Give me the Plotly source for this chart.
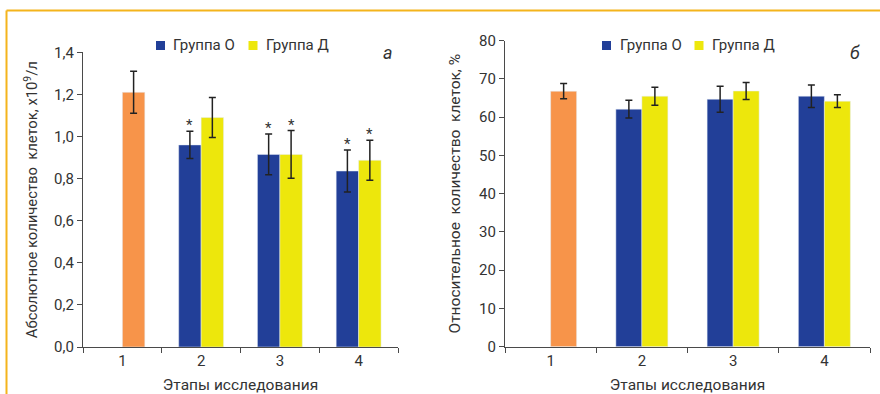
import plotly.graph_objects as go

# ---------------- data ----------------
stages = ["1", "2", "3", "4"]
stages_groups = ["2", "3", "4"]

abs_base = [1.21]
abs_base_err = [0.10]
abs_O = [0.96, 0.915, 0.836]
abs_O_err = [0.065, 0.097, 0.10]
abs_D = [1.09, 0.915, 0.887]
abs_D_err = [0.095, 0.113, 0.095]
abs_O_sig = [True, True, True]
abs_D_sig = [False, True, True]

rel_base = [66.8]
rel_base_err = [2.0]
rel_O = [62.1, 64.7, 65.5]
rel_O_err = [2.3, 3.4, 2.95]
rel_D = [65.5, 66.85, 64.2]
rel_D_err = [2.35, 2.25, 1.65]

name_O = "Группа О"
name_D = "Группа Д"
ytitle_abs = "Абсолютное количество  клеток, х10<sup>9</sup>/л"
ytitle_rel = "Относительное  количество  клеток, %"
xtitle = "Этапы исследования"

# ---------------- style ----------------
C_ORANGE = "#F7944A"
C_BLUE = "#223F98"
C_YELLOW = "#EDE70C"
C_ERR = "#222222"
C_TEXT = "#333333"
C_AXIS = "#4a4a4a"
C_FRAME = "#F4B41C"
FONT = "Roboto"
BW = 0.285
W, H = 880, 394

fig = go.Figure()


def err(vals):
    return dict(type="data", array=vals, visible=True, color=C_ERR, thickness=1.5, width=3.5)


def add_panel(xa, ya, base, base_e, o, o_e, d, d_e):
    fig.add_trace(go.Bar(x=["1"], y=base, error_y=err(base_e), marker_color=C_ORANGE,
                         width=BW, offset=0, xaxis=xa, yaxis=ya, showlegend=False))
    fig.add_trace(go.Bar(x=stages_groups, y=o, error_y=err(o_e), marker_color=C_BLUE,
                         width=BW, offset=-BW, xaxis=xa, yaxis=ya, name=name_O, showlegend=False))
    fig.add_trace(go.Bar(x=stages_groups, y=d, error_y=err(d_e), marker_color=C_YELLOW,
                         width=BW, offset=0, xaxis=xa, yaxis=ya, name=name_D, showlegend=False))


add_panel("x", "y", abs_base, abs_base_err, abs_O, abs_O_err, abs_D, abs_D_err)
add_panel("x2", "y2", rel_base, rel_base_err, rel_O, rel_O_err, rel_D, rel_D_err)

# significance stars (left panel)
annotations = []
star_font = dict(family=FONT, size=15, color=C_TEXT)
for i, st in enumerate(stages_groups):
    idx = stages.index(st)
    if abs_O_sig[i]:
        annotations.append(dict(x=idx - BW / 2, y=abs_O[i] + abs_O_err[i], xref="x", yref="y",
                                text="*", showarrow=False, yanchor="bottom", yshift=-5,
                                font=star_font))
    if abs_D_sig[i]:
        annotations.append(dict(x=idx + BW / 2, y=abs_D[i] + abs_D_err[i], xref="x", yref="y",
                                text="*", showarrow=False, yanchor="bottom", yshift=-5,
                                font=star_font))

# panel letters
annotations.append(dict(x=388 / W, y=1 - 40 / H, xref="paper", yref="paper", text="<i>а</i>",
                        showarrow=False, font=dict(family=FONT, size=18, color=C_TEXT)))
annotations.append(dict(x=862 / W, y=1 - 40 / H, xref="paper", yref="paper", text="<i>б</i>",
                        showarrow=False, font=dict(family=FONT, size=18, color=C_TEXT)))

# legends (swatch + label) for both panels
shapes = [
    dict(type="line", xref="paper", yref="paper", x0=6.5 / W, x1=1, y0=1 - 10.5 / H,
         y1=1 - 10.5 / H, line=dict(color=C_FRAME, width=2)),
    dict(type="line", xref="paper", yref="paper", x0=6.5 / W, x1=6.5 / W, y0=0,
         y1=1 - 10.5 / H, line=dict(color=C_FRAME, width=2)),
]
legend_items = [
    (156, 171, name_O, C_BLUE), (248.5, 264, name_D, C_YELLOW),
    (602, 617.5, name_O, C_BLUE), (694.5, 710, name_D, C_YELLOW),
]
LEG_Y = 45.5
for sx, tx, nm, col in legend_items:
    shapes.append(dict(type="rect", xref="paper", yref="paper", x0=sx / W, x1=(sx + 9) / W,
                       y0=1 - (LEG_Y + 4.5) / H, y1=1 - (LEG_Y - 4.5) / H,
                       fillcolor=col, line=dict(width=0)))
    annotations.append(dict(x=tx / W, y=1 - LEG_Y / H, xref="paper", yref="paper", text=nm,
                            showarrow=False, xanchor="left", yanchor="middle",
                            font=dict(family=FONT, size=15, color=C_TEXT)))

tick_font = dict(family=FONT, size=15, color=C_TEXT)
title_font = dict(family=FONT, size=15.5, color=C_TEXT)
title_font_abs = dict(family=FONT, size=14.8, color=C_TEXT)

xaxis_common = dict(type="category", categoryorder="array", categoryarray=stages,
                    range=[-0.5, 3.5], tickson="boundaries", ticks="outside", ticklen=5,
                    tickcolor=C_AXIS, tickwidth=1.2, showline=True, linecolor=C_AXIS,
                    linewidth=1.2, showgrid=False, zeroline=False, tickfont=tick_font,
                    title=dict(text=xtitle, font=title_font, standoff=10), fixedrange=True,
                    automargin=False)
yaxis_common = dict(ticks="outside", ticklen=5, tickcolor=C_AXIS, tickwidth=1.2,
                    showline=True, linecolor=C_AXIS, linewidth=1.2, showgrid=False,
                    zeroline=False, tickfont=tick_font, fixedrange=True, automargin=False)

fig.update_layout(
    width=W, height=H,
    margin=dict(l=0, r=0, t=0, b=0),
    paper_bgcolor="white", plot_bgcolor="white",
    barmode="overlay",
    separators=", ",
    showlegend=False,
    font=dict(family=FONT, color=C_TEXT),
    xaxis=dict(domain=[83 / W, 398 / W], anchor="y", **xaxis_common),
    xaxis2=dict(domain=[505 / W, 870 / W], anchor="y2", **xaxis_common),
    yaxis=dict(domain=[1 - 347 / H, 1 - 52.3 / H], anchor="x", range=[0, 1.4], dtick=0.2,
               tickformat=".1f", title=dict(text=ytitle_abs, font=title_font_abs, standoff=12),
               **yaxis_common),
    yaxis2=dict(domain=[1 - 346.7 / H, 1 - 40.7 / H], anchor="x2", range=[0, 80], dtick=10,
                title=dict(text=ytitle_rel, font=title_font, standoff=14), **yaxis_common),
    annotations=annotations,
    shapes=shapes,
)

fig.write_html("out.html", config={"displayModeBar": False},
               post_script="document.body.style.margin='0';document.body.style.overflow='hidden';")
